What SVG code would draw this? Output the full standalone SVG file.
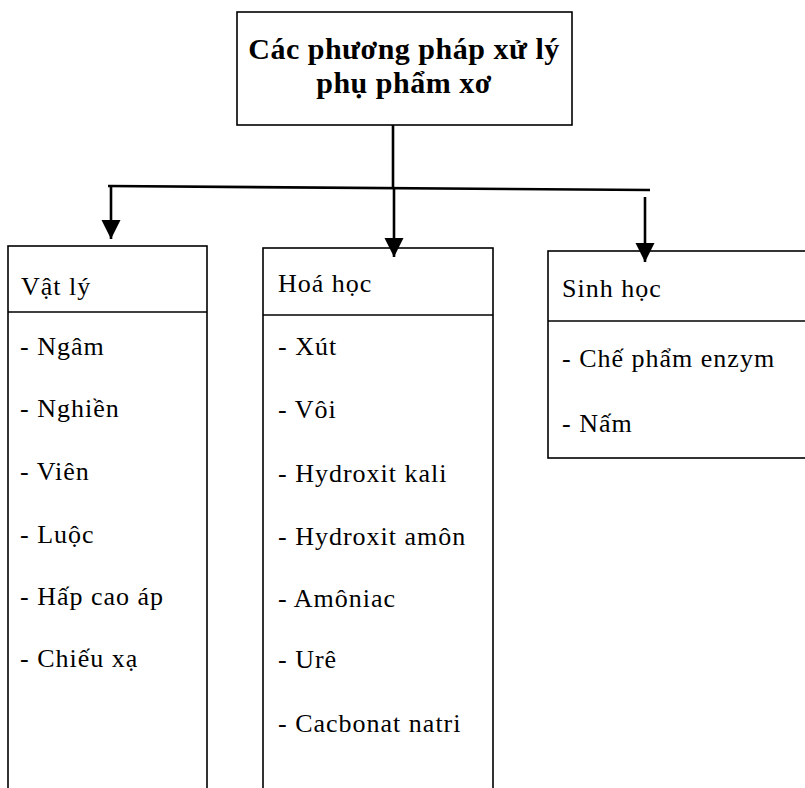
<svg xmlns="http://www.w3.org/2000/svg" width="805" height="788" viewBox="0 0 805 788">
<defs>
<style>
.box{fill:none;stroke:#000;stroke-width:1.6}
.conn{stroke:#000;stroke-width:2.6;fill:none}
.t{font-family:"Liberation Serif","Times New Roman",serif;font-size:26px;letter-spacing:1px;fill:#000}
.title{font-family:"Liberation Serif","Times New Roman",serif;font-size:30px;font-weight:bold;letter-spacing:0.5px;fill:#000;text-anchor:middle}
</style>
<marker id="ah" viewBox="0 0 10 10" refX="10" refY="5" markerWidth="7.5" markerHeight="7.5" orient="auto" markerUnits="strokeWidth">
<path d="M0,0 L10,5 L0,10 Z" fill="#000"/>
</marker>
</defs>
<rect width="805" height="788" fill="#fff"/>
<g id="title">
<rect class="box" x="237" y="12" width="335" height="113"/>
<text class="title" x="404" y="59">Các phương pháp xử lý</text>
<text class="title" x="404" y="93">phụ phẩm xơ</text>
</g>
<g id="connectors">
<line class="conn" x1="393" y1="125" x2="393" y2="189"/>
<line class="conn" x1="108" y1="186" x2="650" y2="190"/>
<line class="conn" x1="111" y1="187" x2="111" y2="239" marker-end="url(#ah)"/>
<line class="conn" x1="394" y1="189" x2="394" y2="257" marker-end="url(#ah)"/>
<line class="conn" x1="645" y1="197" x2="645" y2="262" marker-end="url(#ah)"/>
</g>
<g id="vatly">
<rect class="box" x="8" y="246" width="199" height="560"/>
<line class="box" x1="8" y1="312" x2="207" y2="312"/>
<text class="t" x="21" y="295">Vật lý</text>
<text class="t" x="20" y="355">- Ngâm</text>
<text class="t" x="20" y="417">- Nghiền</text>
<text class="t" x="20" y="480">- Viên</text>
<text class="t" x="20" y="543">- Luộc</text>
<text class="t" x="20" y="605">- Hấp cao áp</text>
<text class="t" x="20" y="667">- Chiếu xạ</text>
</g>
<g id="hoahoc">
<rect class="box" x="263" y="248" width="230" height="560"/>
<line class="box" x1="263" y1="315" x2="493" y2="315"/>
<text class="t" x="278" y="292">Hoá học</text>
<text class="t" x="278" y="355">- Xút</text>
<text class="t" x="278" y="418">- Vôi</text>
<text class="t" x="278" y="482">- Hydroxit kali</text>
<text class="t" x="278" y="545">- Hydroxit amôn</text>
<text class="t" x="278" y="607">- Amôniac</text>
<text class="t" x="278" y="668">- Urê</text>
<text class="t" x="278" y="732">- Cacbonat natri</text>
</g>
<g id="sinhhoc">
<rect class="box" x="548" y="251" width="280" height="207"/>
<line class="box" x1="548" y1="321" x2="805" y2="321"/>
<text class="t" x="562" y="297">Sinh học</text>
<text class="t" x="562" y="367">- Chế phẩm enzym</text>
<text class="t" x="562" y="432">- Nấm</text>
</g>
</svg>
